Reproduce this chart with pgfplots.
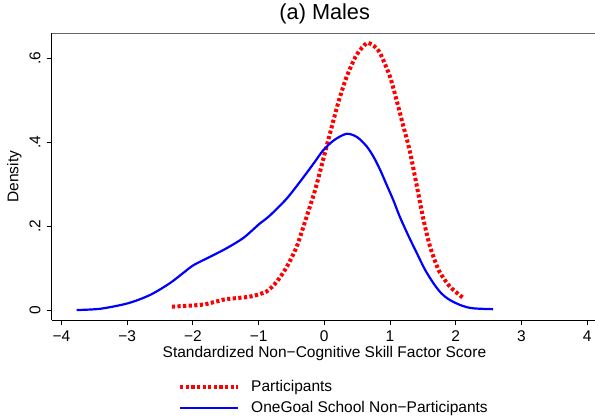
\documentclass[border=0pt]{standalone}
\usepackage{pgfplots}
\pgfplotsset{compat=1.18}
\usepackage{fontspec}
\setmainfont{Liberation Sans}
\begin{document}
\begin{tikzpicture}
\useasboundingbox (-51.7bp,-96bp) rectangle (543.3bp,320bp);
\begin{axis}[
  at={(0,0)}, anchor=south west,
  scale only axis, width=543.3bp, height=286.5bp,
  xmin=-4.149, xmax=4.120, ymin=-0.0238, ymax=0.6591,
  clip=false,
  axis x line*=bottom, axis y line*=left,
  axis line style={line width=0.8bp, black},
  tick align=outside, major tick length=5bp,
  every tick/.style={black, line width=0.8bp},
  xtick={-4,-3,-2,-1,0,1,2,3,4},
  xticklabels={−4,−3,−2,−1,0,1,2,3,4},
  ytick={0,0.2,0.4,0.6},
  yticklabels={0,.2,.4,.6},
  tick label style={font=\fontsize{15.5bp}{18bp}\selectfont},
  /pgf/number format/assume math mode=true,
  xticklabel style={inner sep=0pt, anchor=north, yshift=-5.6bp},
  yticklabel style={rotate=90, inner sep=0pt, anchor=south, yshift=6bp},
  title={(a) Males},
  title style={font=\fontsize{21.7bp}{24bp}\selectfont, at={(axis description cs:0.5025,1.048)}, anchor=center, inner sep=0pt},
  xlabel={Standardized Non−Cognitive Skill Factor Score},
  xlabel style={font=\fontsize{15.5bp}{18bp}\selectfont, at={(axis description cs:0.502,-0.1152)}, anchor=center, inner sep=0pt},
  ylabel={Density},
  ylabel style={font=\fontsize{15.5bp}{18bp}\selectfont, at={(axis description cs:-0.0685,0.5)}, rotate=0, anchor=center, inner sep=0pt},
  legend style={draw=none, fill=none, at={(axis description cs:0.2325,-0.2105)}, anchor=north west,
     font=\fontsize{15.5bp}{18bp}\selectfont, inner sep=0pt, row sep=8.3bp,
     nodes={inner sep=0pt}},
  legend cell align=left,
  legend image code/.code={\draw[#1] (0bp,0bp) -- (58bp,0bp);},
]
\addplot[red, line width=4bp, dash pattern=on 3.2bp off 2.4bp, smooth, tension=0.4] coordinates {
(-2.32,0.008) (-2.1,0.010) (-1.84,0.013) (-1.6,0.022) (-1.49,0.026) (-1.13,0.032)
(-0.88,0.044) (-0.72,0.068) (-0.57,0.103) (-0.42,0.151) (-0.27,0.222) (-0.14,0.286)
(-0.015,0.360) (0.06,0.405) (0.21,0.493) (0.34,0.556) (0.49,0.608) (0.645,0.636)
(0.75,0.630) (0.85,0.612) (1.0,0.556) (1.10,0.50) (1.20,0.44) (1.30,0.38)
(1.41,0.294) (1.51,0.215) (1.61,0.151) (1.74,0.095) (1.91,0.056) (2.12,0.028)
};
\addlegendentry{\hspace{11bp}Participants}
\addplot[blue, line width=2.2bp, smooth, tension=0.5] coordinates {
(-3.77,0.000) (-3.41,0.003) (-2.99,0.016) (-2.65,0.036) (-2.35,0.064) (-2.15,0.088)
(-1.99,0.107) (-1.75,0.126) (-1.49,0.147) (-1.23,0.172) (-0.99,0.205) (-0.83,0.225)
(-0.57,0.266) (-0.32,0.316) (-0.15,0.352) (-0.015,0.381) (0.15,0.405) (0.34,0.420)
(0.50,0.412) (0.645,0.390) (0.75,0.365) (0.85,0.334) (0.95,0.298) (1.05,0.262)
(1.15,0.222) (1.28,0.177) (1.41,0.135) (1.53,0.097) (1.66,0.064) (1.78,0.040)
(1.91,0.024) (2.1,0.010) (2.27,0.004) (2.57,0.002)
};
\addlegendentry{\hspace{11bp}OneGoal School Non−Participants}
\draw[black!60, line width=0.8bp] (rel axis cs:0,1) -- (rel axis cs:1,1);
\end{axis}
\end{tikzpicture}
\end{document}
